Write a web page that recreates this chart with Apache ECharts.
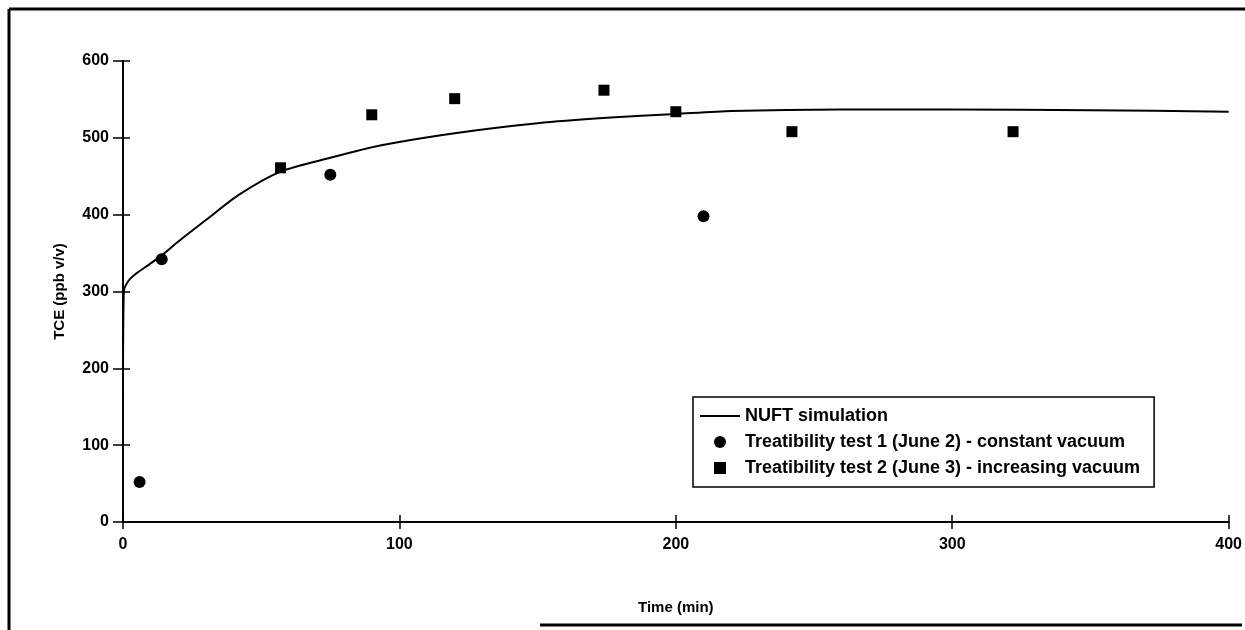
<!DOCTYPE html>
<html><head><meta charset="utf-8">
<script src="https://cdn.jsdelivr.net/npm/echarts@6/dist/echarts.min.js"></script>
<style>html,body{margin:0;padding:0;background:#fff}#c{width:1245px;height:630px}</style>
</head><body><div id="c"></div>
<script>
// NUFT simulation curve
const simTime = [0, 0.3, 2, 5, 9, 14, 20, 30, 42, 57, 75, 93, 120, 150, 175, 200, 220, 260, 300, 350, 400];
const simTCE  = [165, 300, 314, 324, 334, 347, 365, 393, 426, 456, 474, 490, 506, 519, 526, 531, 535, 537, 537, 536, 534];
// Treatibility test 1 (June 2) - constant vacuum
const test1Time = [6, 14, 75, 210];
const test1TCE  = [52, 342, 452, 398];
// Treatibility test 2 (June 3) - increasing vacuum
const test2Time = [57, 90, 120, 174, 200, 242, 322];
const test2TCE  = [461, 530, 551, 562, 534, 508, 508];
const xTicks = [0, 100, 200, 300, 400];
const yTicks = [0, 100, 200, 300, 400, 500, 600];

const FONT = '"Liberation Sans", Arial, sans-serif';
const zip = (a, b) => a.map((v, i) => [v, b[i]]);
const chart = echarts.init(document.getElementById('c'));
const axisCommon = {
  axisLine: { show: true, lineStyle: { color: '#000', width: 1.5 } },
  splitLine: { show: false }
};
chart.setOption({
  animation: false,
  backgroundColor: '#fff',
  grid: { left: 123, right: 15, top: 61, bottom: 108 },
  xAxis: [
    Object.assign({}, axisCommon, {
      type: 'value', min: 0, max: 400, interval: 100,
      name: 'Time (min)', nameLocation: 'middle', nameGap: 78,
      nameTextStyle: { fontFamily: FONT, fontWeight: 'bold', fontSize: 15, color: '#000' },
      axisTick: { show: true, length: 7, lineStyle: { color: '#000', width: 1.5 } },
      axisLabel: { fontFamily: FONT, fontWeight: 'bold', fontSize: 16, color: '#000', margin: 15,
        formatter: v => xTicks.includes(v) ? String(v) : '' }
    }),
    Object.assign({}, axisCommon, {
      type: 'value', min: 0, max: 400, interval: 100, position: 'bottom',
      axisTick: { show: true, inside: true, length: 7, lineStyle: { color: '#000', width: 1.5 } },
      axisLabel: { show: false }
    }),
    Object.assign({}, axisCommon, {
      type: 'value', min: 0, max: 400, position: 'top',
      axisTick: { show: false }, axisLabel: { show: false }
    })
  ],
  yAxis: [
    Object.assign({}, axisCommon, {
      type: 'value', min: 0, max: 600, interval: 100,
      name: 'TCE (ppb v/v)', nameLocation: 'middle', nameGap: 56, nameRotate: 90,
      nameTextStyle: { fontFamily: FONT, fontWeight: 'bold', fontSize: 15, color: '#000' },
      axisTick: { show: true, length: 10, lineStyle: { color: '#000', width: 1.5 } },
      axisLabel: { fontFamily: FONT, fontWeight: 'bold', fontSize: 16, color: '#000', margin: 14,
        formatter: v => yTicks.includes(v) ? String(v) : '' }
    }),
    Object.assign({}, axisCommon, {
      type: 'value', min: 0, max: 600, interval: 100, position: 'left',
      axisTick: { show: true, inside: true, length: 7, lineStyle: { color: '#000', width: 1.5 } },
      axisLabel: { show: false }
    }),
    Object.assign({}, axisCommon, {
      type: 'value', min: 0, max: 600, position: 'right',
      axisTick: { show: false }, axisLabel: { show: false }
    })
  ],
  legend: {
    orient: 'vertical', left: 693, top: 397,
    padding: [10, 14, 10, 7], itemGap: 8,
    backgroundColor: '#fff',
    borderColor: '#000', borderWidth: 1.5, borderRadius: 0,
    itemWidth: 40, itemHeight: 12,
    textStyle: { fontFamily: FONT, fontWeight: 'bold', fontSize: 18, color: '#000' },
    data: [
      { name: 'NUFT simulation', icon: 'path://M0,0 L40,0 L40,2 L0,2 Z' },
      { name: 'Treatibility test 1 (June 2) - constant vacuum', icon: 'circle' },
      { name: 'Treatibility test 2 (June 3) - increasing vacuum', icon: 'path://M0,0 L10,0 L10,10 L0,10 Z' }
    ]
  },
  series: [
    { name: 'NUFT simulation', type: 'line', data: zip(simTime, simTCE), smooth: 0.25,
      showSymbol: false, symbol: 'none', lineStyle: { color: '#000', width: 2 }, itemStyle: { color: '#000' } },
    { name: 'Treatibility test 1 (June 2) - constant vacuum', type: 'scatter', data: zip(test1Time, test1TCE),
      symbol: 'circle', symbolSize: 12, itemStyle: { color: '#000', opacity: 1 } },
    { name: 'Treatibility test 2 (June 3) - increasing vacuum', type: 'scatter', data: zip(test2Time, test2TCE),
      symbol: 'rect', symbolSize: 11, symbolKeepAspect: true, itemStyle: { color: '#000', opacity: 1 } }
  ],
  graphic: [
    { type: 'line', shape: { x1: 9, y1: 9, x2: 1245, y2: 9 }, style: { stroke: '#000', lineWidth: 3 } },
    { type: 'line', shape: { x1: 9, y1: 9, x2: 9, y2: 630 }, style: { stroke: '#000', lineWidth: 3 } },
    { type: 'line', shape: { x1: 540, y1: 625, x2: 1242, y2: 625 }, style: { stroke: '#000', lineWidth: 3 } }
  ]
});
</script></body></html>
